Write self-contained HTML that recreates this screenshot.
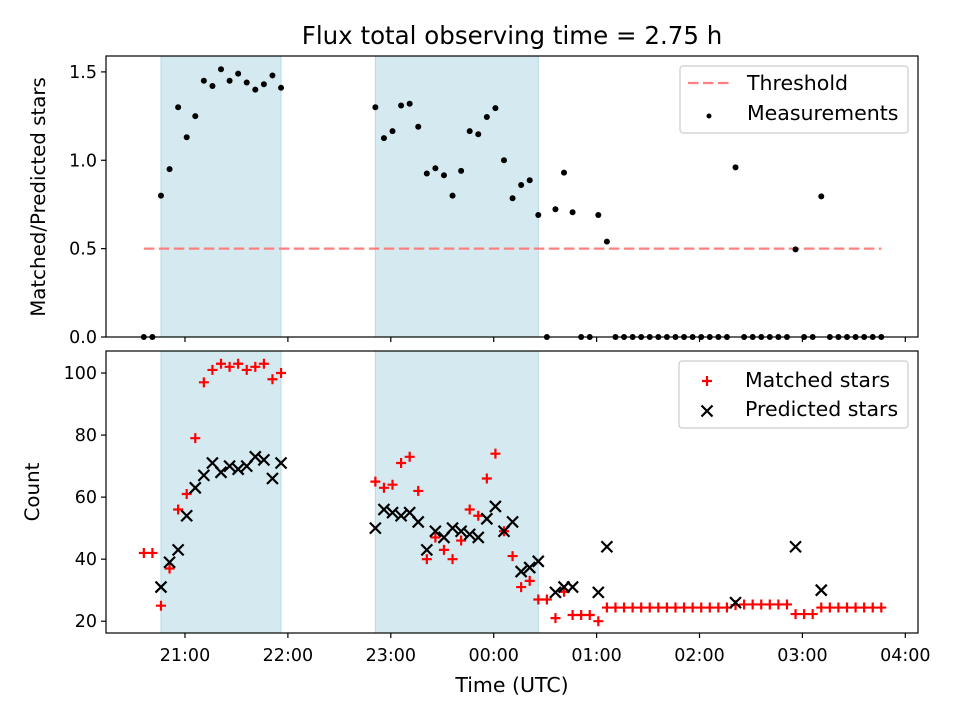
<!DOCTYPE html>
<html><head><meta charset="utf-8"><style>
html,body{margin:0;padding:0;background:#fff}
svg{display:block;font-family:"DejaVu Sans","Liberation Sans",sans-serif}
</style></head><body>
<svg id="chart" width="960" height="720" viewBox="0 0 960 720" xmlns="http://www.w3.org/2000/svg">
<text x="512" y="44" text-anchor="middle" font-size="24.5" fill="#000">Flux total observing time = 2.75 h</text>
<text transform="translate(45,197) rotate(-90)" text-anchor="middle" font-size="19.8">Matched/Predicted stars</text>
<text transform="translate(39,492) rotate(-90)" text-anchor="middle" font-size="19.8">Count</text>
<text x="512" y="692" text-anchor="middle" font-size="20.5">Time (UTC)</text>
<g id="g"></g>
</svg>
<script>
// times in minutes after 20:00
const times = [36,41,46,51,56,61,66,71,76,81,86,91,96,101,106,111,116,
171,176,181,186,191,196,201,206,211,216,221,226,231,236,241,246,251,256,261,266,271,276,281,286,291,296,301,306,311,316,321,326,331,336,341,346,351,356,361,366,371,376,381,386,391,396,401,406,411,416,421,426,431,436,441,446,451,456,461,466];
const ratio = [0,0,0.80,0.95,1.30,1.13,1.25,1.45,1.42,1.515,1.45,1.49,1.44,1.40,1.43,1.48,1.41,
1.30,1.125,1.165,1.31,1.32,1.19,0.925,0.955,0.915,0.80,0.94,1.165,1.147,1.245,1.295,1.00,0.785,0.86,0.887,0.69,0,0.723,0.93,0.706,0,0,0.69,0.54,
0,0,0,0,0,0,0,0,0,0,0,0,0,0,0.96,0,0,0,0,0,0,0.496,0,0,0.796,0,0,0,0,0,0,0];
const matched = [42,42,25,37,56,61,79,97,101,103,102,103,101,102,103,98,100,
65,63,64,71,73,62,40,47,43,40,46,56,54,66,74,49,41,31,33,27,27,21,29.5,22,22,22,20,
24.4,24.4,24.4,24.4,24.4,24.4,24.4,24.4,24.4,24.4,24.4,24.4,24.4,24.4,24.4,25.2,25.4,25.4,25.4,25.4,25.4,25.4,22.3,22.3,22.3,24.4,24.4,24.4,24.4,24.4,24.4,24.4,24.4];
const predicted = [null,null,31,39,43,54,63,67,71,68,70,69,70,73,72,66,71,
50,56,55,54,55,52,43,49,47,50,49,48,47,53,57,49,52,36,37.3,39.3,null,29.3,31,31,null,null,29.3,44,
null,null,null,null,null,null,null,null,null,null,null,null,null,null,26,null,null,null,null,null,null,44,null,null,30,null,null,null,null,null,null,null];
const spans = [[46,116],[171,266]];
const threshold = 0.5, thrStart = 36, thrEnd = 466;
const xTickLabels = ["21:00","22:00","23:00","00:00","01:00","02:00","03:00","04:00"];
const xTickVals = [60,120,180,240,300,360,420,480];
const topYTicks = [0,0.5,1.0,1.5];
const botYTicks = [20,40,60,80,100];

const NS="http://www.w3.org/2000/svg";
const g=document.getElementById('g');
function el(t,a,p){const e=document.createElementNS(NS,t);for(const k in a)e.setAttribute(k,a[k]);(p||g).appendChild(e);return e;}
const L=106,R=918;
const X=m=>L+(m-13.94)*(R-L)/(487.4-13.94);
const T1=56,B1=337,T2=351,B2=633;
const Y1=v=>B1-(v-0)*(B1-T1)/1.59;
const Y2=v=>B2-(v-16.2)*(B2-T2)/(107.1-16.2);
const FS=17.5, LFS=20.5;

for(const [a,b] of [[T1,B1],[T2,B2]]){
  spans.forEach(s=>{
    const r=el('rect',{x:X(s[0]),y:a,width:X(s[1])-X(s[0]),height:b-a,fill:'#d4eaf0',stroke:'#b5dbe6','stroke-width':1});
    
    
  });
}
const th=el('line',{x1:X(thrStart),x2:X(thrEnd),y1:Y1(threshold),y2:Y1(threshold),stroke:'#ff8080','stroke-width':2.2,'stroke-dasharray':'10.5,4.5'});


times.forEach((t,i)=>{
  const c=el('circle',{cx:X(t),cy:Y1(ratio[i]),r:3,fill:'#000'});
  
  
});
function plus(x,y){return el('path',{d:`M${x-5},${y}H${x+5}M${x},${y-5}V${y+5}`,stroke:'#f00','stroke-width':2.2,fill:'none'});}
function cross(x,y){return el('path',{d:`M${x-5.5},${y-5.5}L${x+5.5},${y+5.5}M${x-5.5},${y+5.5}L${x+5.5},${y-5.5}`,stroke:'#000','stroke-width':2.2,fill:'none'});}
times.forEach((t,i)=>{
  const p=plus(X(t),Y2(matched[i]));
  
  
});
times.forEach((t,i)=>{
  if(predicted[i]==null)return;
  const p=cross(X(t),Y2(predicted[i]));
  
  
});
[[T1,B1,'top-axes-frame'],[T2,B2,'bottom-axes-frame']].forEach(([a,b,n])=>{
  const r=el('rect',{x:L,y:a,width:R-L,height:b-a,fill:'none',stroke:'#000','stroke-width':1.2});
  
  
});
xTickVals.forEach((v,i)=>{
  const x=X(v);
  el('line',{x1:x,x2:x,y1:B1,y2:B1+5,stroke:'#000','stroke-width':1.2});
  el('line',{x1:x,x2:x,y1:B2,y2:B2+5,stroke:'#000','stroke-width':1.2});
  const tx=el('text',{x:x,y:B2+28,'text-anchor':'middle','font-size':FS});
  tx.textContent=xTickLabels[i];
  
  
});
topYTicks.forEach(v=>{
  const y=Y1(v);
  el('line',{x1:L-5,x2:L,y1:y,y2:y,stroke:'#000','stroke-width':1.2});
  const tx=el('text',{x:L-9,y:y+6,'text-anchor':'end','font-size':FS});
  tx.textContent=v.toFixed(1);
  
  
});
botYTicks.forEach(v=>{
  const y=Y2(v);
  el('line',{x1:L-5,x2:L,y1:y,y2:y,stroke:'#000','stroke-width':1.2});
  const tx=el('text',{x:L-9,y:y+6,'text-anchor':'end','font-size':FS});
  tx.textContent=String(v);
  
  
});
function legendBox(x,y,w,h,name){const r=el('rect',{x:x,y:y,width:w,height:h,rx:3,fill:'#fff','fill-opacity':0.8,stroke:'#ccc','stroke-width':1.2});}
legendBox(680,66,228,67,'top-legend');
const l1=el('line',{x1:688,x2:730,y1:83,y2:83,stroke:'#ff8080','stroke-width':2.2,'stroke-dasharray':'10.5,4.5'});


const t1=el('text',{x:747,y:90,'font-size':LFS});t1.textContent='Threshold';


const c1=el('circle',{cx:709,cy:116,r:2.5,fill:'#000'});


const t2=el('text',{x:747,y:120,'font-size':LFS});t2.textContent='Measurements';



legendBox(679,361,229,67,'bottom-legend');
const m1=plus(707,381);


const t3=el('text',{x:745,y:387,'font-size':LFS});t3.textContent='Matched stars';


const m2=cross(707,411);


const t4=el('text',{x:745,y:416,'font-size':LFS});t4.textContent='Predicted stars';


</script>
</body></html>
